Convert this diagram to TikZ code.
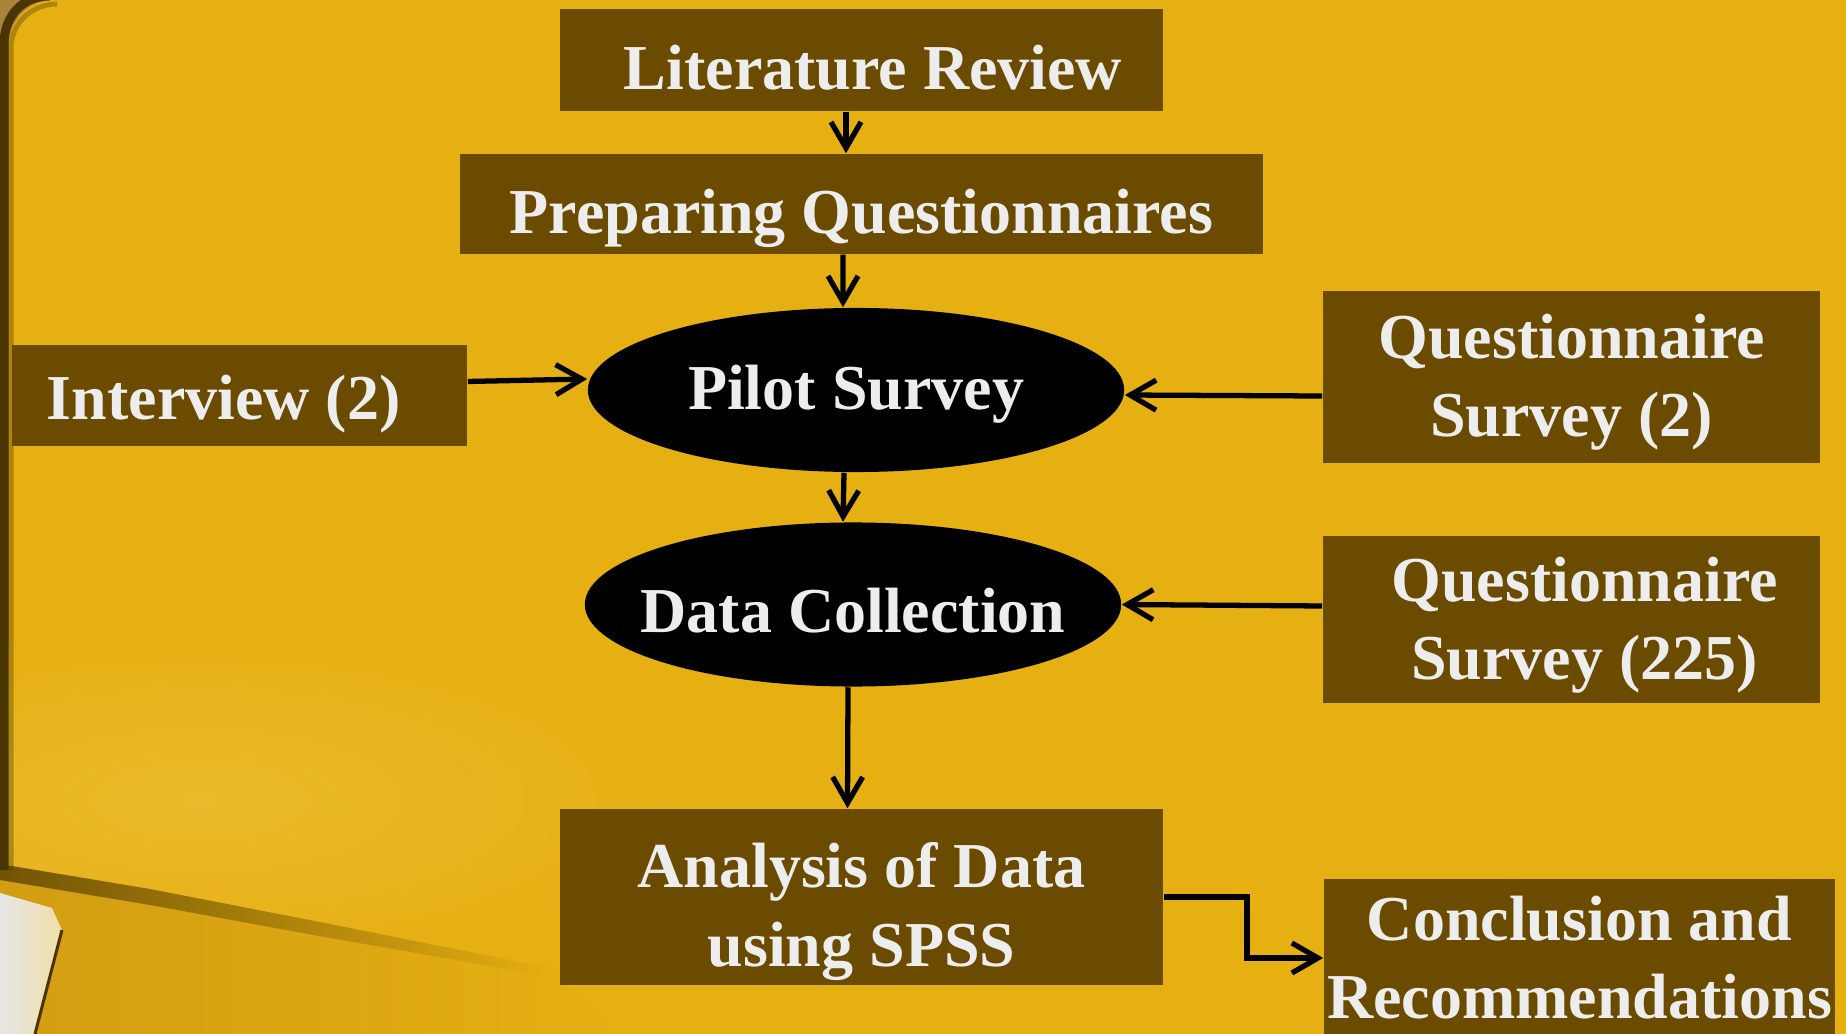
\documentclass[tikz,border=0pt]{standalone}
\usepackage{fontspec}
\setmainfont{Liberation Serif}
\usetikzlibrary{shapes.geometric, arrows.meta}
\definecolor{gold}{HTML}{E6AF12}
\definecolor{goldlight}{HTML}{ECBA2C}
\definecolor{golddeep}{HTML}{D29D12}
\definecolor{boxbrown}{HTML}{6B4B00}
\definecolor{paper}{HTML}{EDEDED}
\definecolor{rim}{HTML}{4A3500}
\definecolor{frametan}{HTML}{A8843A}
\definecolor{cream}{HTML}{F0DFA6}
\newcommand{\bigbold}{\bfseries\fontsize{18.2}{22.2}\selectfont}
\tikzset{
    box/.style = {rectangle, fill=boxbrown, text=paper, inner xsep=0pt, inner ysep=0pt, align=center, font=\bigbold},
    oval/.style = {ellipse, fill=black, text=paper, inner xsep=-0.3cm, inner ysep=0pt, minimum width=5.36cm, minimum height=1.64cm, font=\bigbold},
    flow/.style = {line width=1.5pt, -{Straight Barb[length=0.26cm, width=0.3cm]}}
}

\begin{document}
\begin{tikzpicture}[x=0.01cm, y=-0.01cm]
    % Parametri
    \pgfmathsetmacro{\fw}{1846}
    \pgfmathsetmacro{\fh}{1034}
    \useasboundingbox (0,0) rectangle (\fw,\fh);
    \clip (0,0) rectangle (\fw,\fh);
    % Fondo
    \fill[frametan] (0,0) rectangle (\fw,\fh);
    \fill[gold] (\fw,\fh) -- (9,\fh) -- (9,45) .. controls (9,20) and (29,0) .. (54,0) -- (\fw,0) -- cycle;
    \shade[inner color=goldlight, outer color=gold] (200,800) ellipse [x radius=480, y radius=170];
    \shade[left color=golddeep, right color=gold] (0,876) -- (150,902) -- (330,936) -- (560,978) -- (620,\fh) -- (0,\fh) -- cycle;
    \shade[left color=rim!75!gold, right color=gold] (0,864) -- (150,889) -- (330,924) -- (560,970) -- (560,978) -- (330,938) -- (150,905) -- (0,880) -- cycle;
    \shade[left color=gray!20, right color=cream] (0,893) -- (52,908) -- (62,930) -- (35,\fh) -- (0,\fh) -- cycle;
    \draw[rim, line width=0.03cm] (62,930) -- (35,\fh);
    \draw[rim, line width=0.09cm] (4,870) -- (4,45) .. controls (4,14) and (24,-4) .. (50,-4);
    \draw[rim, line width=0.05cm, opacity=0.35] (11,870) -- (11,48) .. controls (11,24) and (31,4) .. (57,4);
    % Blocchi
    \node[box, text width=5.21cm, inner xsep=0.41cm, align=flush right, minimum height=1.02cm, text height=0.59cm, text depth=0cm] (lit) at (861.5,60) {Literature Review};
    \node[box, minimum width=8.03cm, minimum height=1.00cm, text height=0.58cm, text depth=0cm] (prep) at (861.5,204) {Preparing Questionnaires};
    \node[oval, text height=0.45cm, text depth=0.06cm] (pilot) at (856,390) {Pilot Survey};
    \node[box, text width=3.85cm, inner xsep=0.35cm, align=flush left, minimum height=1.01cm, text height=0.47cm, text depth=0cm] (intv) at (239.5,395.5) {Interview (2)};
    \node[box, minimum width=4.97cm, minimum height=1.72cm] (qsmall) at (1571.5,377) {\rule{0pt}{0.54cm}Questionnaire\\Survey (2)};
    \node[oval, text height=0.55cm, text depth=0cm] (datac) at (853,604.5) {Data Collection};
    \node[box, minimum width=4.97cm, minimum height=1.67cm] (qlarge) at (1571.5,619.5) {\rule{0pt}{0.56cm}\hspace*{0.26cm}Questionnaire\\\hspace*{0.26cm}Survey (225)};
    \node[box, minimum width=6.03cm, minimum height=1.76cm] (anal) at (861.5,897) {\rule{0pt}{0.74cm}Analysis of Data\\using SPSS};
    \node[box, minimum width=5.11cm, minimum height=1.58cm] (concl) at (1579.5,958) {Conclusion and\\Recommendations};
    % Frecce
    \draw[flow] ([xshift=-0.155cm]lit.south) -- ([xshift=-0.155cm]prep.north);
    \draw[flow] ([xshift=-0.185cm]prep.south) -- ([xshift=-0.13cm]pilot.north);
    \draw[flow] ([xshift=-0.12cm]pilot.south) -- ([xshift=-0.10cm]datac.north);
    \draw[flow] ([xshift=-0.05cm]datac.south) -- ([xshift=-0.14cm]anal.north);
    \draw[flow] ([yshift=0.14cm]intv.east) -- ([yshift=0.11cm]pilot.west);
    \draw[flow] ([yshift=-0.19cm]qsmall.west) -- ([yshift=-0.05cm]pilot.east);
    \draw[flow] ([yshift=0.135cm]qlarge.west) -- (datac.east);
    \draw[flow] (anal.east) -- ++(83,0) |- (concl.west);
\end{tikzpicture}
\end{document}
